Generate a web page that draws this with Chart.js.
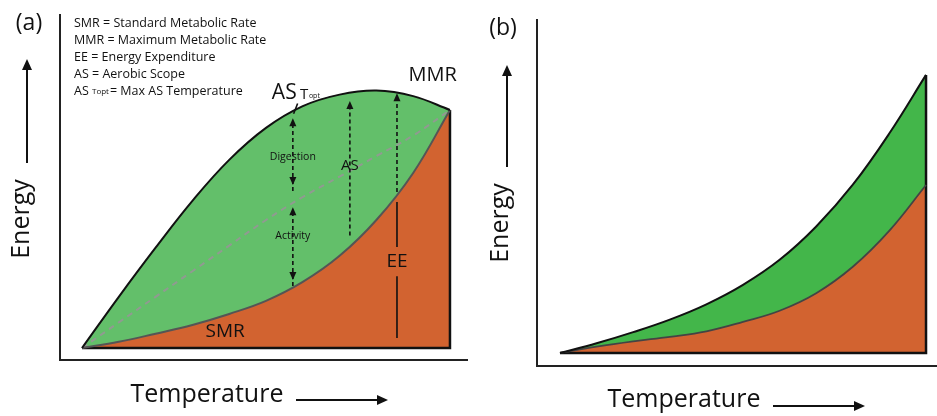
<!DOCTYPE html>
<html>
<head>
<meta charset="utf-8">
<script src="https://cdn.jsdelivr.net/npm/chart.js@4.4.0/dist/chart.umd.min.js"></script>
<style>
  html, body { margin: 0; padding: 0; background: #fff; }
  #wrap { position: relative; width: 937px; height: 416px; }
  #panelA { position: absolute; left: 0; top: 0; width: 470px; height: 416px; }
  #panelB { position: absolute; left: 470px; top: 0; width: 467px; height: 416px; }
</style>
</head>
<body>
<div id="wrap">
  <div id="panelA"><canvas id="chartA"></canvas></div>
  <div id="panelB"><canvas id="chartB"></canvas></div>
</div>
<script>
// panel (a): temperature steps and energy curves (arbitrary units)
var tempsA = [0, 10, 20, 30, 40, 50, 60, 70, 80, 90, 100];
var mmrA = [0, 20, 39.2, 57.5, 73.5, 86, 94.5, 99, 100.6, 98.4, 93];
var smrA = [0, 2.4, 5.6, 9, 13.3, 18.4, 25.8, 36, 50, 68.4, 93];
var eeA = [0, 10, 20, 30, 40, 50, 59, 67, 75, 83, 93];

// panel (b)
var tempsB = [0, 10, 20, 30, 40, 50, 60, 70, 80, 90, 100];
var mmrB = [0, 3.5, 7.5, 12, 17.5, 24.5, 33.5, 45.5, 60.5, 79, 100];
var smrB = [0, 2.3, 4.2, 5.8, 7.8, 11.2, 15.2, 21.5, 31, 44, 60.4];

var legendLines = [
    'SMR = Standard Metabolic Rate',
    'MMR = Maximum Metabolic Rate',
    'EE = Energy Expenditure',
    'AS = Aerobic Scope'
];

var FONT = '"Open Sans", "DejaVu Sans", sans-serif';
var GREEN_A = '#63bf6a';
var GREEN_B = '#43b64a';
var ORANGE = '#d26330';

function pts(xs, ys) {
    return xs.map(function (x, i) { return { x: x, y: ys[i] }; });
}

function font(size) { return size + 'px ' + FONT; }

function text(ctx, s, x, y, size, align) {
    ctx.font = font(size);
    ctx.textAlign = align || 'center';
    ctx.textBaseline = 'middle';
    ctx.fillStyle = '#111';
    ctx.fillText(s, x, y);
}

function head(ctx, x, y, dir, len, half) {
    // dir: -1 points up, 1 points down, 'r' points right
    ctx.beginPath();
    if (dir === 'r') {
        ctx.moveTo(x, y);
        ctx.lineTo(x - len, y - half);
        ctx.lineTo(x - len, y + half);
    } else {
        ctx.moveTo(x, y);
        ctx.lineTo(x - half, y - dir * len);
        ctx.lineTo(x + half, y - dir * len);
    }
    ctx.closePath();
    ctx.fill();
}

// dashed vertical arrow from e1 to e2 (data units)
function dashArrow(ctx, xs, ys, t, e1, e2, headStart) {
    var x = xs.getPixelForValue(t);
    var y1 = ys.getPixelForValue(e1);
    var y2 = ys.getPixelForValue(e2);
    var dir = y2 < y1 ? -1 : 1;
    ctx.save();
    ctx.strokeStyle = '#111';
    ctx.fillStyle = '#111';
    ctx.lineWidth = 1.6;
    ctx.setLineDash([4, 3]);
    ctx.beginPath();
    ctx.moveTo(x, headStart ? y1 - dir * 6 : y1);
    ctx.lineTo(x, y2 - dir * 6);
    ctx.stroke();
    ctx.setLineDash([]);
    head(ctx, x, y2, dir, 8, 3.5);
    if (headStart) head(ctx, x, y1, -dir, 8, 3.5);
    ctx.restore();
}

function frame(ctx, area) {
    ctx.save();
    ctx.strokeStyle = '#222';
    ctx.lineWidth = 2;
    ctx.beginPath();
    ctx.moveTo(area.left, area.top);
    ctx.lineTo(area.left, area.bottom);
    ctx.lineTo(area.right, area.bottom);
    ctx.stroke();
    ctx.restore();
}

function axisTitles(ctx, ex, ey, ax, ay1, ay2, tx, ty, bx1, bx2, by) {
    ctx.save();
    ctx.translate(ex, ey);
    ctx.rotate(-Math.PI / 2);
    text(ctx, 'Energy', 0, 0, 25, 'center');
    ctx.restore();
    text(ctx, 'Temperature', tx, ty, 25, 'center');
    ctx.save();
    ctx.strokeStyle = '#111';
    ctx.fillStyle = '#111';
    ctx.lineWidth = 2;
    ctx.beginPath();
    ctx.moveTo(ax, ay1);
    ctx.lineTo(ax, ay2 + 8);
    ctx.moveTo(bx1, by);
    ctx.lineTo(bx2 - 8, by);
    ctx.stroke();
    head(ctx, ax, ay2, -1, 11, 5);
    head(ctx, bx2, by, 'r', 11, 5);
    ctx.restore();
}

var annotateA = {
    id: 'annotateA',
    afterDatasetsDraw: function (chart) {
        var ctx = chart.ctx;
        var xs = chart.scales.x;
        var ys = chart.scales.y;
        var X = function (t) { return xs.getPixelForValue(t); };
        var Y = function (e) { return ys.getPixelForValue(e); };

        dashArrow(ctx, xs, ys, 57.3, 63.7, 89.8, true);
        dashArrow(ctx, xs, ys, 57.3, 26.6, 55, true);
        dashArrow(ctx, xs, ys, 72.8, 44, 96.5, false);
        dashArrow(ctx, xs, ys, 85.6, 61, 99.5, false);

        // EE solid line, broken around its label
        ctx.save();
        ctx.strokeStyle = '#111';
        ctx.lineWidth = 1.6;
        ctx.beginPath();
        ctx.moveTo(X(85.6), Y(57));
        ctx.lineTo(X(85.6), Y(39.5));
        ctx.moveTo(X(85.6), Y(28));
        ctx.lineTo(X(85.6), Y(3.9));
        ctx.stroke();
        // AS Topt tick
        ctx.beginPath();
        ctx.moveTo(X(57.5), Y(91.5));
        ctx.lineTo(X(58.6), Y(95.5));
        ctx.stroke();
        ctx.restore();

        text(ctx, 'Digestion', X(57.3), Y(74.6), 10.5, 'center');
        text(ctx, 'Activity', X(57.3), Y(43.6), 10.5, 'center');
        text(ctx, 'AS', X(72.8), Y(71.2), 15, 'center');
        text(ctx, 'EE', X(85.6), Y(33.6), 19, 'center');
        text(ctx, 'SMR', X(38.9), Y(6.3), 19, 'center');
        text(ctx, 'MMR', X(95.3), Y(106.6), 20, 'center');

        // AS Topt label
        ctx.font = font(21);
        ctx.textAlign = 'left';
        ctx.textBaseline = 'alphabetic';
        ctx.fillStyle = '#111';
        var lx = X(51.6), ly = Y(97.2);
        ctx.fillText('AS', lx, ly);
        lx += ctx.measureText('AS ').width - 2;
        ctx.font = font(15);
        ctx.fillText('T', lx, ly);
        lx += ctx.measureText('T').width + 0.5;
        ctx.font = font(7);
        ctx.fillText('opt', lx, ly - 1);
    },
    afterDraw: function (chart) {
        var ctx = chart.ctx;
        frame(ctx, chart.chartArea);
        text(ctx, '(a)', 29, 23, 23, 'center');
        legendLines.forEach(function (s, i) {
            text(ctx, s, 74, 23 + i * 17, 12.5, 'left');
        });
        // last legend line with a small "Topt"
        ctx.font = font(12.5);
        ctx.textAlign = 'left';
        ctx.textBaseline = 'middle';
        var lx = 74, ly = 91;
        ctx.fillText('AS ', lx, ly);
        lx += ctx.measureText('AS ').width;
        ctx.font = font(8);
        ctx.fillText('Topt', lx, ly + 1);
        lx += ctx.measureText('Topt').width + 1;
        ctx.font = font(12.5);
        ctx.fillText('= Max AS Temperature', lx, ly);

        axisTitles(ctx, 22, 219, 27, 163, 59, 207, 395, 296, 388, 400);
    }
};

var annotateB = {
    id: 'annotateB',
    afterDraw: function (chart) {
        var ctx = chart.ctx;
        frame(ctx, chart.chartArea);
        text(ctx, '(b)', 33, 28, 23, 'center');
        axisTitles(ctx, 31, 223, 37, 167, 65, 214, 400, 303, 395, 406);
    }
};

function curveSet(data, color, width, fill, bg) {
    return {
        data: data,
        borderColor: color,
        borderWidth: width,
        backgroundColor: bg || 'transparent',
        fill: fill,
        pointRadius: 0,
        tension: 0.4
    };
}

function baseOptions(xmin, xmax, ymin, ymax, pad) {
    return {
        responsive: true,
        maintainAspectRatio: false,
        animation: false,
        layout: { padding: pad },
        scales: {
            x: { type: 'linear', min: xmin, max: xmax, display: false },
            y: { type: 'linear', min: ymin, max: ymax, display: false }
        },
        plugins: {
            legend: { display: false },
            tooltip: { enabled: false },
            filler: { drawTime: 'beforeDatasetsDraw' }
        }
    };
}

function outline(lastY) {
    var d = curveSet([{ x: 0, y: 0 }, { x: 100, y: 0 }, { x: 100, y: lastY }], '#111', 2.5, false);
    d.tension = 0;
    return d;
}

var eeSet = curveSet(pts(tempsA, eeA), 'rgba(150,150,150,0.9)', 2, false);
eeSet.borderDash = [6, 5];

new Chart(document.getElementById('chartA').getContext('2d'), {
    type: 'line',
    data: {
        datasets: [
            curveSet(pts(tempsA, mmrA), '#111', 2, '+1', GREEN_A),
            curveSet(pts(tempsA, smrA), '#555', 2, 'origin', ORANGE),
            eeSet,
            outline(mmrA[mmrA.length - 1])
        ]
    },
    options: baseOptions(-5.98, 104.9, -4.69, 130.5, { left: 60, right: 2, top: 14, bottom: 56 }),
    plugins: [annotateA]
});

new Chart(document.getElementById('chartB').getContext('2d'), {
    type: 'line',
    data: {
        datasets: [
            curveSet(pts(tempsB, mmrB), '#111', 2, '+1', GREEN_B),
            curveSet(pts(tempsB, smrB), '#444', 1.8, 'origin', ORANGE),
            outline(mmrB[mmrB.length - 1])
        ]
    },
    options: baseOptions(-6.28, 103, -4.68, 120.1, { left: 67, right: 0, top: 19, bottom: 50 }),
    plugins: [annotateB]
});
</script>
</body>
</html>
